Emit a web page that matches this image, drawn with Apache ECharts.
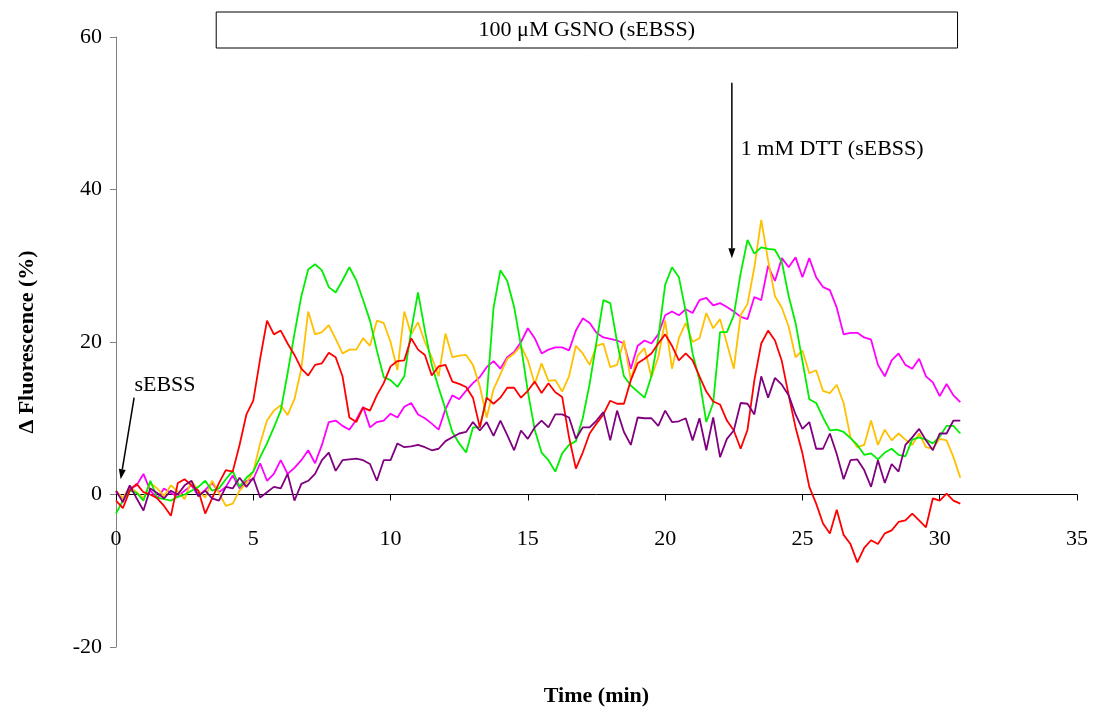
<!DOCTYPE html>
<html>
<head>
<meta charset="utf-8">
<script src="https://cdn.jsdelivr.net/npm/echarts@6/dist/echarts.min.js"></script>
<style>
  html, body { margin: 0; padding: 0; background: #fff; }
  #chart { width: 1099px; height: 713px; }
</style>
</head>
<body>
<div id="chart"></div>
<script>
// Fluorescence change of five cells, sampled every 0.25 min
const SAMPLE_STEP_MIN = 0.25;

const redCell = [
  -0.8, -1.8, 0.5, 1.4, 0.3, 0, -0.5, -1.5, -2.8, 1.5, 2.0, 1.2, 0.5, -2.5, -0.5, 1.5, 3.2, 3.0, 6.5, 10.5,
  12.3, 17.8, 22.8, 21.0, 21.5, 19.8, 18.3, 16.5, 15.6, 17.0, 17.2, 18.6, 18.0, 15.5, 10.1, 9.5, 11.4, 11.0, 13.0, 14.6,
  16.8, 17.5, 17.6, 20.5, 19.0, 18.3, 15.6, 16.8, 17.0, 14.8, 14.5, 14.1, 12.7, 8.8, 12.7, 11.9, 12.7, 14.0, 14.0, 12.7,
  13.6, 14.8, 13.3, 14.6, 13.4, 12.8, 7.5, 3.4, 5.5, 8.0, 9.3, 10.5, 12.3, 11.9, 11.9, 15.0, 17.2, 17.8, 18.5, 19.8,
  21.0, 19.5, 17.6, 18.5, 17.6, 15.5, 13.5, 12.2, 11.8, 9.7, 8.4, 6.0, 8.5, 15.0, 19.8, 21.5, 20.2, 17.5, 13.0, 8.8,
  5.4, 1.0, -1.2, -3.8, -5.1, -2.0, -5.3, -6.5, -8.9, -7.0, -6.0, -6.5, -5.1, -4.7, -3.6, -3.4, -2.5, -3.4, -4.3, -0.5,
  -0.8, 0.1, -0.8, -1.2
];
const greenCell = [
  -2.5, -0.8, 0.5, 0.2, -0.8, 1.8, -0.4, -0.6, -0.8, -0.3, 0, 0.5, 1.0, 1.8, 0.5, 0.8, 2.0, 3.1, 1.0, 2.2,
  3.0, 4.9, 6.7, 8.8, 11.0, 15.9, 21.1, 26.0, 29.5, 30.2, 29.4, 27.2, 26.5, 28.1, 29.8, 28.1, 25.5, 22.8, 18.9, 15.4,
  15.0, 14.1, 15.5, 21.5, 26.5, 21.5, 17.0, 14.0, 11.2, 8.2, 6.7, 5.5, 8.8, 8.8, 12.7, 24.5, 29.4, 28.0, 24.6, 19.5,
  13.5, 8.5, 5.5, 4.5, 3.0, 5.4, 6.5, 7.0, 10.0, 14.5, 20.0, 25.5, 25.1, 20.0, 15.5, 14.3, 13.5, 12.7, 15.5, 20.5,
  27.5, 29.8, 28.5, 24.0, 18.5, 15.0, 9.5, 12.0, 21.3, 21.3, 23.5, 29.0, 33.4, 31.6, 32.4, 32.2, 32.1, 30.5, 26.0, 22.5,
  17.5, 12.5, 12.0, 10.1, 8.4, 8.5, 8.2, 7.4, 6.5, 5.2, 5.4, 4.6, 5.5, 6.0, 5.2, 5.0, 7.2, 7.5, 7.2, 6.7,
  7.6, 9.0, 9.0, 8.0
];
const yellowCell = [
  0.5, -0.5, 1.0, 0.3, -0.5, 1.5, 0.8, -0.2, 1.2, 0.4, -0.6, 1.8, 0.5, -0.4, 1.8, 0.2, -1.5, -1.2, 0.5, 1.5,
  3.0, 6.7, 9.7, 11.0, 11.7, 10.4, 12.5, 16.5, 24.0, 21.0, 21.3, 22.2, 20.4, 18.5, 19.0, 19.0, 20.5, 19.5, 22.8, 22.5,
  20.0, 16.3, 24.0, 21.0, 22.6, 20.0, 18.0, 15.5, 21.1, 18.0, 18.2, 18.3, 17.0, 14.2, 10.1, 13.8, 15.8, 17.8, 18.5, 19.5,
  17.6, 14.5, 17.2, 14.9, 15.0, 13.5, 15.5, 19.5, 18.5, 17.0, 19.5, 19.8, 16.7, 17.0, 20.2, 15.0, 18.2, 19.2, 15.4, 18.0,
  22.8, 16.5, 20.5, 22.5, 20.0, 20.5, 23.8, 21.8, 23.0, 19.8, 16.5, 23.5, 25.0, 29.8, 36.0, 30.7, 26.0, 24.5, 22.0, 18.0,
  18.9, 15.9, 16.3, 13.6, 13.3, 14.4, 12.0, 7.5, 6.2, 6.5, 9.7, 6.5, 8.5, 7.1, 8.0, 7.2, 6.5, 8.0, 6.2, 6.0,
  7.3, 7.1, 4.9, 2.2
];
const magentaCell = [
  0.3, -0.5, 0.8, 1.2, 2.7, 0.5, -0.5, 0.8, 0.2, -0.3, 0.5, 1.2, -0.2, 0.6, 1.5, 0.3, 1.0, 2.5, 0.8, 1.8,
  2.0, 4.1, 1.8, 2.7, 4.5, 2.7, 3.5, 4.5, 5.8, 4.1, 6.5, 9.5, 9.7, 9.0, 8.5, 9.8, 11.5, 8.8, 9.5, 9.7,
  10.6, 10.1, 11.5, 12.0, 10.5, 10.0, 9.3, 8.5, 11.2, 13.0, 12.5, 13.6, 14.6, 15.4, 16.7, 17.5, 16.5, 18.0, 18.7, 20.0,
  21.8, 20.5, 18.5, 19.0, 19.3, 19.3, 18.9, 21.5, 23.1, 22.5, 21.2, 20.6, 20.4, 20.2, 19.8, 16.5, 19.5, 20.2, 19.8, 21.0,
  23.5, 24.0, 23.5, 24.3, 23.8, 25.5, 25.8, 24.8, 25.1, 24.6, 24.0, 23.3, 23.0, 25.9, 25.5, 30.0, 28.0, 31.0, 29.8, 31.1,
  28.5, 31.0, 28.5, 27.2, 26.8, 24.5, 21.0, 21.2, 21.2, 20.6, 20.3, 17.0, 15.5, 17.6, 18.5, 17.0, 16.5, 17.8, 15.5, 14.7,
  12.9, 14.5, 13.0, 12.1
];
const purpleCell = [
  0.5, -1.0, 1.2, -0.5, -2.1, 0.8, 0.2, -0.5, 0.5, 0.0, 1.2, 1.8, -0.2, 0.5, -0.5, -0.8, 1.0, 0.8, 2.2, 1.0,
  2.2, -0.4, 0.3, 1.0, 0.8, 2.7, -0.8, 1.4, 1.8, 2.7, 4.5, 5.5, 3.1, 4.5, 4.6, 4.7, 4.5, 4.0, 1.8, 4.5,
  4.5, 6.7, 6.2, 6.3, 6.5, 6.2, 5.8, 6.0, 7.0, 7.5, 8.0, 8.2, 9.5, 8.4, 9.5, 7.7, 9.7, 7.8, 5.8, 8.4,
  7.3, 8.8, 9.7, 8.8, 10.5, 10.5, 10.1, 7.3, 8.8, 8.8, 9.7, 10.8, 7.1, 11.0, 8.2, 6.5, 10.1, 10.0, 10.0, 9.0,
  11.0, 9.5, 9.6, 10.0, 7.1, 10.0, 5.8, 10.1, 4.9, 7.3, 8.4, 12.0, 11.9, 10.5, 15.5, 12.7, 15.3, 14.4, 13.0, 10.5,
  8.6, 9.5, 6.0, 6.0, 8.0, 5.3, 2.0, 4.5, 4.6, 3.2, 1.0, 4.5, 1.5, 4.0, 3.0, 6.5, 7.5, 8.6, 7.1, 5.8,
  8.0, 8.0, 9.7, 9.7
];

const cellTraces = [
  { name: 'Cell 1', color: '#FF00FF', values: magentaCell },
  { name: 'Cell 2', color: '#FFC000', values: yellowCell },
  { name: 'Cell 3', color: '#00EE00', values: greenCell },
  { name: 'Cell 4', color: '#FF0000', values: redCell },
  { name: 'Cell 5', color: '#800080', values: purpleCell }
];

// Axis ranges and ticks
const X_MIN = 0, X_MAX = 35, X_STEP = 5;
const Y_MIN = -20, Y_MAX = 60, Y_STEP = 20;

// Treatment annotations (times in min)
const GSNO_LABEL = '100 \u03bcM GSNO (sEBSS)';
const GSNO_START = 3.65, GSNO_END = 30.65;
const DTT_LABEL = '1 mM DTT (sEBSS)';
const DTT_TIME = 22.43;
const SEBSS_LABEL = 'sEBSS';
const SEBSS_TIME = 0.17;

const FONT = '"Liberation Serif", "Times New Roman", serif';

const chart = echarts.init(document.getElementById('chart'));

const series = cellTraces.map(c => ({
  name: c.name,
  type: 'line',
  showSymbol: false,
  symbol: 'none',
  clip: false,
  data: c.values.map((v, i) => [i * SAMPLE_STEP_MIN, v]),
  lineStyle: { color: c.color, width: 1.8 },
  itemStyle: { color: c.color },
  emphasis: { disabled: true },
  animation: false
}));

// Time labels sit just under the zero line; the title stays at the foot of the chart
chart.setOption({
  backgroundColor: '#fff',
  animation: false,
  grid: { left: 116, top: 37, width: 961, height: 610, containLabel: false, outerBoundsMode: 'none' },
  xAxis: {
    type: 'value',
    min: X_MIN, max: X_MAX, interval: X_STEP,
    name: 'Time (min)',
    nameLocation: 'middle',
    nameGap: 38,
    nameTextStyle: { fontFamily: FONT, fontSize: 22, fontWeight: 'bold', color: '#000' },
    axisLine: { onZero: true, lineStyle: { color: '#000', width: 1 } },
    axisTick: { show: true, length: 6, lineStyle: { color: '#000' } },
    axisLabel: { margin: -119, fontFamily: FONT, fontSize: 22, color: '#000' },
    splitLine: { show: false }
  },
  yAxis: {
    type: 'value',
    min: Y_MIN, max: Y_MAX, interval: Y_STEP,
    name: '\u0394 Fluorescence (%)',
    nameLocation: 'middle',
    nameGap: 78,
    nameTextStyle: { fontFamily: FONT, fontSize: 22, fontWeight: 'bold', color: '#000' },
    axisLine: { show: true, lineStyle: { color: '#808080', width: 1 } },
    axisTick: { show: true, length: 6, lineStyle: { color: '#808080' } },
    axisLabel: { margin: 14, fontFamily: FONT, fontSize: 22, color: '#000' },
    splitLine: { show: false }
  },
  series: series
});

function px(t, v) {
  return chart.convertToPixel({ gridIndex: 0 }, [t, v]);
}

function arrowShapes(from, to) {
  const dx = to[0] - from[0], dy = to[1] - from[1];
  const len = Math.hypot(dx, dy);
  const ux = dx / len, uy = dy / len;
  const head = 10, half = 3.5;
  const bx = to[0] - ux * head, by = to[1] - uy * head;
  return [
    { type: 'line', silent: true, z: 100,
      shape: { x1: from[0], y1: from[1], x2: bx, y2: by },
      style: { stroke: '#000', lineWidth: 1.5 } },
    { type: 'polygon', silent: true, z: 100,
      shape: { points: [to, [bx - uy * half, by + ux * half], [bx + uy * half, by - ux * half]] },
      style: { fill: '#000' } }
  ];
}

const gsnoLeft = px(GSNO_START, 0)[0];
const gsnoRight = px(GSNO_END, 0)[0];
const dttTop = px(DTT_TIME, 54);
const dttTip = px(DTT_TIME, 31);
const sebssFrom = px(0.66, 12.7);
const sebssTip = px(SEBSS_TIME, 2.0);

chart.setOption({
  graphic: [
    { type: 'rect', silent: true, z: 100,
      shape: { x: gsnoLeft, y: 12, width: gsnoRight - gsnoLeft, height: 36 },
      style: { fill: '#fff', stroke: '#000', lineWidth: 1 } },
    { type: 'text', silent: true, z: 101,
      x: (gsnoLeft + gsnoRight) / 2, y: 30,
      style: { text: GSNO_LABEL, font: '22px ' + FONT, fill: '#000', align: 'center', verticalAlign: 'middle' } },
    ...arrowShapes(dttTop, dttTip),
    { type: 'text', silent: true, z: 101,
      x: dttTop[0] + 9, y: 149,
      style: { text: DTT_LABEL, font: '22px ' + FONT, fill: '#000', align: 'left', verticalAlign: 'middle' } },
    ...arrowShapes(sebssFrom, sebssTip),
    { type: 'text', silent: true, z: 101,
      x: 165, y: 385,
      style: { text: SEBSS_LABEL, font: '22px ' + FONT, fill: '#000', align: 'center', verticalAlign: 'middle' } }
  ]
});
</script>
</body>
</html>
